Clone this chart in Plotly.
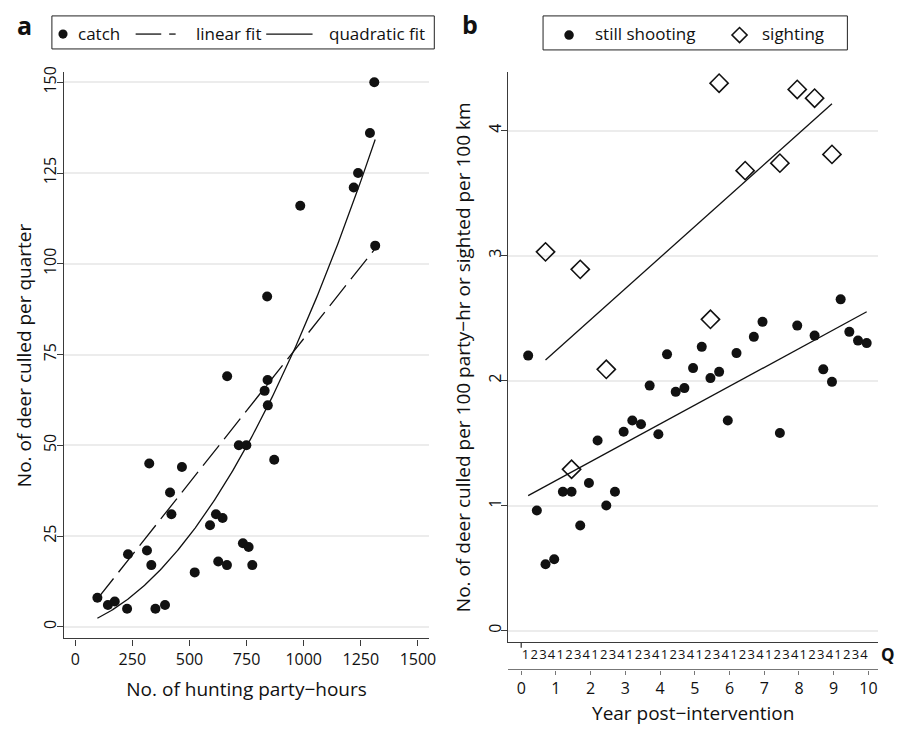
import numpy as np
import plotly.graph_objects as go

# Panel a: hunting effort vs deer culled per quarter
hours = [97, 143, 173, 227, 231, 314, 333, 324, 351, 393, 415, 421, 467, 523,
         590, 616, 645, 626, 664, 665, 716, 749, 734, 759, 775, 829, 842, 843,
         871, 1309, 1290, 1238, 1219, 985, 1313, 840]
catch = [8, 6, 7, 5, 20, 21, 17, 45, 5, 6, 37, 31, 44, 15,
         28, 31, 30, 18, 17, 69, 50, 50, 23, 22, 17, 65, 68, 61,
         46, 150, 136, 125, 121, 116, 105, 91]
hours_ticks = [0, 250, 500, 750, 1000, 1250, 1500]
catch_ticks = [0, 25, 50, 75, 100, 125, 150]

# Panel b: quarterly rates after the intervention (x in years)
shoot_x = [0.2, 0.45, 0.7, 0.95, 1.2, 1.45, 1.7, 1.95, 2.2, 2.45, 2.7, 2.95,
           3.2, 3.45, 3.7, 3.95, 4.2, 4.45, 4.7, 4.95, 5.2, 5.45, 5.7, 5.95,
           6.2, 6.7, 6.95, 7.45, 7.95, 8.45, 8.7, 8.95, 9.2, 9.45, 9.7, 9.95]
shoot_y = [2.20, 0.96, 0.53, 0.57, 1.11, 1.11, 0.84, 1.18, 1.52, 1.00, 1.11, 1.59,
           1.68, 1.65, 1.96, 1.57, 2.21, 1.91, 1.94, 2.10, 2.27, 2.02, 2.07, 1.68,
           2.22, 2.35, 2.47, 1.58, 2.44, 2.36, 2.09, 1.99, 2.65, 2.39, 2.32, 2.30]
sight_x = [0.7, 1.45, 1.7, 2.45, 5.45, 5.7, 6.45, 7.45, 7.95, 8.45, 8.95]
sight_y = [3.03, 1.29, 2.89, 2.09, 2.49, 4.38, 3.68, 3.74, 4.33, 4.26, 3.81]
years = list(range(0, 11))
quarter_names = ["1", "2", "3", "4"]
rate_ticks = [0, 1, 2, 3, 4]

FONT = "Open Sans"
INK = "#111111"
AXIS = "#3a3a3a"
GRID = "#ececec"
TITLE_SIZE = 19

# Panel a fits: both regressions are forced through the origin
hx_arr = np.asarray(hours, dtype=float)
cy_arr = np.asarray(catch, dtype=float)
hx = np.linspace(hx_arr.min(), hx_arr.max(), 200)
lin_slope = float(np.dot(hx_arr, cy_arr) / np.dot(hx_arr, hx_arr))
quad_coef, *_ = np.linalg.lstsq(np.column_stack([hx_arr, hx_arr ** 2]), cy_arr, rcond=None)
lin_line = lin_slope * hx
quad_line = quad_coef[0] * hx + quad_coef[1] * hx ** 2

# Panel b: ordinary linear trends
sx = np.array([min(shoot_x), max(shoot_x)])
s_fit = np.polyfit(shoot_x, shoot_y, 1)
gx = np.array([min(sight_x), max(sight_x)])
g_fit = np.polyfit(sight_x, sight_y, 1)

fig = go.Figure()

fig.add_trace(go.Scatter(x=hours, y=catch, mode="markers", name="catch",
                         marker=dict(color=INK, size=10), showlegend=False,
                         xaxis="x", yaxis="y"))
fig.add_trace(go.Scatter(x=hx, y=lin_line, mode="lines", name="linear fit",
                         line=dict(color=INK, width=1.3, dash="26px,8px"),
                         showlegend=False, xaxis="x", yaxis="y"))
fig.add_trace(go.Scatter(x=hx, y=quad_line, mode="lines", name="quadratic fit",
                         line=dict(color=INK, width=1.3),
                         showlegend=False, xaxis="x", yaxis="y"))

fig.add_trace(go.Scatter(x=shoot_x, y=shoot_y, mode="markers", name="still shooting",
                         marker=dict(color=INK, size=10), showlegend=False,
                         xaxis="x2", yaxis="y2"))
fig.add_trace(go.Scatter(x=sight_x, y=sight_y, mode="markers", name="sighting",
                         marker=dict(symbol="diamond-open", color=INK, size=14,
                                     line=dict(width=1.6)),
                         showlegend=False, xaxis="x3", yaxis="y2"))
fig.add_trace(go.Scatter(x=sx, y=np.polyval(s_fit, sx), mode="lines", showlegend=False,
                         line=dict(color=INK, width=1.3), xaxis="x3", yaxis="y2"))
fig.add_trace(go.Scatter(x=gx, y=np.polyval(g_fit, gx), mode="lines", showlegend=False,
                         line=dict(color=INK, width=1.3), xaxis="x3", yaxis="y2"))

W, H = 904, 729


def px(x):
    return x / W


def py(y):
    return 1 - y / H


common_axis = dict(showline=True, linecolor=AXIS, linewidth=1.3, zeroline=False,
                   tickcolor=AXIS, tickfont=dict(size=16, color=INK, family=FONT))

quarter_vals = [y + (q + 0.5) / 4 for y in years[:-1] for q in range(4)]
quarter_text = [quarter_names[q] for _ in years[:-1] for q in range(4)]
b_range = [-0.371, 10.28]

# Legend boxes drawn in pixel space
shapes = []
annotations = []


def box(x0, y0, x1, y1):
    shapes.append(dict(type="rect", xref="paper", yref="paper",
                       x0=px(x0), x1=px(x1), y0=py(y1), y1=py(y0),
                       line=dict(color="#222222", width=1), fillcolor="white", layer="above"))


def seg(x0, x1, y):
    shapes.append(dict(type="line", xref="paper", yref="paper",
                       x0=px(x0), x1=px(x1), y0=py(y), y1=py(y),
                       line=dict(color=INK, width=1.3), layer="above"))


def dot(cx, cy, r):
    shapes.append(dict(type="circle", xref="paper", yref="paper",
                       x0=px(cx - r), x1=px(cx + r), y0=py(cy + r), y1=py(cy - r),
                       line=dict(color=INK, width=0), fillcolor=INK, layer="above"))


def diamond(cx, cy, r):
    path = "M {} {} L {} {} L {} {} L {} {} Z".format(
        px(cx - r), py(cy), px(cx), py(cy - r), px(cx + r), py(cy), px(cx), py(cy + r))
    shapes.append(dict(type="path", xref="paper", yref="paper", path=path,
                       line=dict(color=INK, width=1.6), layer="above"))


def label(text, x, y):
    annotations.append(dict(text=text, x=px(x), y=py(y), xref="paper", yref="paper",
                            xanchor="left", yanchor="middle", showarrow=False,
                            font=dict(size=17, family=FONT, color=INK)))


box(52.3, 10, 437.7, 43.3)
dot(63.5, 28.3, 4.6)
label("catch", 77, 27.5)
seg(136.7, 162.5, 28.3)
seg(170.5, 177, 28.3)
label("linear fit", 195.5, 27.5)
seg(268.3, 315, 28.3)
label("quadratic fit", 329.5, 27.5)

box(547.3, 10, 854, 44.3)
dot(573.5, 29.3, 4.8)
label("still shooting", 597.5, 28)
diamond(745.3, 29.3, 7.6)
label("sighting", 766, 28)

annotations += [
    dict(text="<b>a</b>", x=px(25), y=py(19), xref="paper", yref="paper",
         xanchor="center", yanchor="middle", showarrow=False,
         font=dict(size=25, family=FONT, color=INK)),
    dict(text="<b>b</b>", x=px(473.5), y=py(18), xref="paper", yref="paper",
         xanchor="center", yanchor="middle", showarrow=False,
         font=dict(size=25, family=FONT, color=INK)),
    dict(text="<b>Q</b>", x=px(895), y=py(654), xref="paper", yref="paper",
         xanchor="center", yanchor="middle", showarrow=False,
         font=dict(size=17, family=FONT, color=INK)),
]

# Tick at the origin of the quarter axis
shapes.append(dict(type="line", xref="x2", yref="paper", x0=0, x1=0,
                   y0=py(647), y1=py(641.7), line=dict(color=AXIS, width=1.3)))

fig.update_layout(
    width=W, height=H, margin=dict(l=0, r=0, t=0, b=0),
    paper_bgcolor="white", plot_bgcolor="white",
    font=dict(family=FONT, color=INK, size=16),
    showlegend=False,
    xaxis=dict(domain=[px(64.3), px(432.7)], range=[-50, 1550], anchor="y",
               tickvals=hours_ticks, ticks="outside", ticklen=6, showgrid=False,
               title=dict(text="No. of hunting party\u2212hours",
                          font=dict(size=TITLE_SIZE), standoff=13),
               **common_axis),
    yaxis=dict(domain=[py(637.7), py(67)], range=[-3.2, 152.7], anchor="x",
               tickvals=catch_ticks, tickangle=-90, ticks="outside", ticklen=6,
               ticklabelstandoff=-6,
               showgrid=True, gridcolor=GRID, gridwidth=1.5,
               title=dict(text="No. of deer culled per quarter",
                          font=dict(size=TITLE_SIZE), standoff=2),
               **common_axis),
    xaxis2=dict(domain=[px(512.3), px(885)], range=b_range, anchor="y2",
                tickvals=quarter_vals, ticktext=quarter_text, ticks="", tickangle=0,
                showgrid=False, showline=True, linecolor=AXIS, linewidth=1.3,
                zeroline=False, tickfont=dict(size=13, color=INK, family=FONT)),
    xaxis3=dict(overlaying="x2", anchor="free", position=py(669), range=b_range,
                tickvals=years, ticks="outside", ticklen=4, showgrid=False,
                title=dict(text="Year post\u2212intervention",
                           font=dict(size=TITLE_SIZE), standoff=8),
                showline=True, linecolor="#777777", linewidth=1.3, zeroline=False,
                tickcolor="#777777", tickfont=dict(size=16, color=INK, family=FONT)),
    yaxis2=dict(domain=[py(641.7), py(66.7)], range=[-0.095, 4.468], anchor="x2",
                tickvals=rate_ticks, tickangle=-90, ticks="outside", ticklen=6,
                ticklabelstandoff=-6,
                showgrid=True, gridcolor=GRID, gridwidth=1.5,
                title=dict(text="No. of deer culled per 100 party\u2212hr or sighted per 100 km",
                           font=dict(size=TITLE_SIZE), standoff=8),
                **common_axis),
    annotations=annotations,
    shapes=shapes,
)

fig.write_html("out.html")
